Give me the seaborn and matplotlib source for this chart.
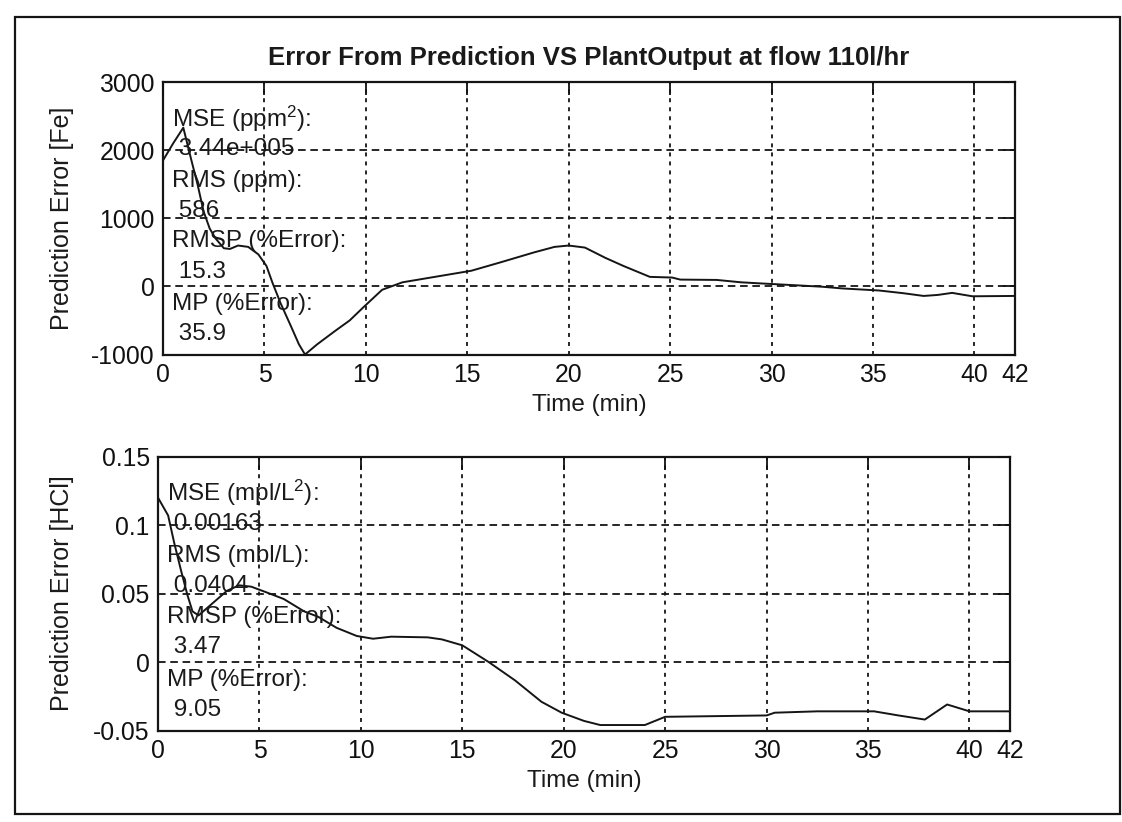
import matplotlib
matplotlib.use("Agg")
import matplotlib.pyplot as plt
from matplotlib.patches import Rectangle
import numpy as np
import pandas as pd
import seaborn as sns

# ---------------- data ----------------
time_fe = [0.0, 0.5, 1.0, 1.4, 1.7, 2.0, 2.3, 2.6, 3.0, 3.3, 3.7, 4.2, 4.7, 5.1,
           5.4, 5.8, 6.3, 6.7, 7.0, 7.6, 8.5, 9.2, 9.9, 10.8, 11.8, 13.0, 14.0,
           15.2, 16.6, 18.3, 19.3, 20.0, 20.8, 21.8, 22.7, 24.0, 25.1, 25.5,
           27.3, 28.5, 29.4, 31.3, 32.5, 33.5, 35.3, 36.5, 37.5, 38.2, 38.9,
           39.9, 42.0]
err_fe = [1850, 2100, 2330, 1850, 1500, 1100, 850, 700, 560, 550, 600, 580, 470,
          300, 50, -250, -580, -850, -1000, -850, -650, -500, -300, -50, 60, 120,
          170, 230, 350, 500, 580, 600, 570, 420, 300, 140, 130, 100, 95, 60, 45,
          15, -5, -30, -60, -100, -140, -125, -95, -145, -140]

time_hcl = [0.0, 0.5, 0.8, 1.15, 1.45, 1.7, 2.0, 2.7, 3.4, 4.0, 4.6, 5.5, 6.2,
            7.2, 7.9, 8.8, 9.8, 10.6, 11.5, 13.3, 14.0, 15.0, 16.3, 17.6, 18.9,
            19.9, 21.0, 21.8, 24.0, 25.0, 30.0, 30.4, 32.5, 35.3, 36.5, 37.8,
            38.9, 40.0, 42.0]
err_hcl = [0.120, 0.107, 0.087, 0.066, 0.049, 0.037, 0.034, 0.043, 0.052, 0.056,
           0.055, 0.050, 0.046, 0.037, 0.033, 0.025, 0.019, 0.017, 0.0185, 0.018,
           0.0165, 0.0122, 0.0, -0.0134, -0.029, -0.037, -0.043, -0.046, -0.046,
           -0.040, -0.039, -0.037, -0.036, -0.036, -0.039, -0.042, -0.031,
           -0.036, -0.036]

x_ticks = [0, 5, 10, 15, 20, 25, 30, 35, 40, 42]
fe_ticks = [-1000, 0, 1000, 2000, 3000]
hcl_ticks = [-0.05, 0, 0.05, 0.1, 0.15]
hcl_tick_labels = ["-0.05", "0", "0.05", "0.1", "0.15"]

fe_stats = ["MSE (ppm$^2$):", " 3.44e+005", "RMS (ppm):", " 586",
            "RMSP (%Error):", " 15.3", "MP (%Error):", " 35.9"]
hcl_stats = ["MSE (mpl/L$^2$):", " 0.00163", "RMS (mbl/L):", " 0.0404",
             "RMSP (%Error):", " 3.47", "MP (%Error):", " 9.05"]

title_text = "Error From Prediction VS PlantOutput at flow 110l/hr"
xlabel_text = "Time (min)"
ylabel_fe = "Prediction Error [Fe]"
ylabel_hcl = "Prediction Error [HCl]"

# ---------------- style ----------------
sns.set_theme(style="white")
plt.rcParams["font.family"] = ["Liberation Sans", "DejaVu Sans"]
plt.rcParams["mathtext.fontset"] = "custom"
plt.rcParams["mathtext.rm"] = "Liberation Sans"
plt.rcParams["mathtext.it"] = "Liberation Sans"
plt.rcParams["mathtext.default"] = "regular"
plt.rcParams["axes.edgecolor"] = "#111111"
plt.rcParams["text.color"] = "#1a1a1a"
plt.rcParams["xtick.color"] = "#111111"
plt.rcParams["ytick.color"] = "#111111"
plt.rcParams["axes.labelcolor"] = "#1a1a1a"

FS_TEXT = 17.5
FS_TICK = 17.8
FS_LABEL = 18.0
FS_TITLE = 18.5
INK = "#151515"

fig = plt.figure(figsize=(11.22, 8.22), dpi=100)
fig.patch.set_facecolor("white")

ax1 = fig.add_axes([0.1453, 0.5687, 0.7593, 0.3315])
ax2 = fig.add_axes([0.1408, 0.1113, 0.7594, 0.3333])

df_fe = pd.DataFrame({"t": time_fe, "e": err_fe})
df_hcl = pd.DataFrame({"t": time_hcl, "e": err_hcl})

sns.lineplot(data=df_fe, x="t", y="e", ax=ax1, color=INK, lw=1.4,
             estimator=None, sort=False)
sns.lineplot(data=df_hcl, x="t", y="e", ax=ax2, color=INK, lw=1.4,
             estimator=None, sort=False)


def style_axes(ax, yticks, ylim, ylabel, ylabels=None, ylabel_x=-0.104):
    ax.set_xlim(0, 42)
    ax.set_ylim(*ylim)
    ax.set_xticks(x_ticks)
    ax.set_xticklabels([str(v) for v in x_ticks])
    ax.set_yticks(yticks)
    if ylabels is not None:
        ax.set_yticklabels(ylabels)
    else:
        ax.set_yticklabels([str(v) for v in yticks])
    ax.tick_params(direction="in", length=9, width=1.3, top=True, right=True,
                   labelsize=FS_TICK, pad=6)
    ax.xaxis.grid(True, color=INK, lw=1.3, linestyle=(0, (2.2, 2.8)))
    ax.yaxis.grid(True, color=INK, lw=1.3, linestyle=(0, (4.2, 2.6)))
    ax.set_axisbelow(False)
    for sp in ax.spines.values():
        sp.set_linewidth(1.6)
        sp.set_color(INK)
    ax.set_xlabel(xlabel_text, fontsize=FS_TEXT, labelpad=5)
    ax.set_ylabel(ylabel, fontsize=FS_LABEL)
    ax.yaxis.set_label_coords(ylabel_x, 0.5)
    ax.set_facecolor("white")


style_axes(ax1, fe_ticks, (-1000, 3000), ylabel_fe, ylabel_x=-0.104)
style_axes(ax2, hcl_ticks, (-0.05, 0.15), ylabel_hcl, hcl_tick_labels,
           ylabel_x=-0.099)

ax1.set_title(title_text, fontsize=FS_TITLE, fontweight="bold", pad=12)

line_pos = [0.866, 0.754, 0.637, 0.526, 0.415, 0.304, 0.186, 0.075]
for ax, lines in ((ax1, fe_stats), (ax2, hcl_stats)):
    for s, yp in zip(lines, line_pos):
        ax.text(0.011, yp, s, transform=ax.transAxes, ha="left", va="center",
                fontsize=FS_TEXT, color="#1a1a1a")

fig.patches.append(Rectangle((0.013, 0.010), 0.985, 0.969,
                             transform=fig.transFigure, fill=False,
                             lw=1.6, ec=INK))

fig.savefig("out.png", dpi=100, facecolor="white")
